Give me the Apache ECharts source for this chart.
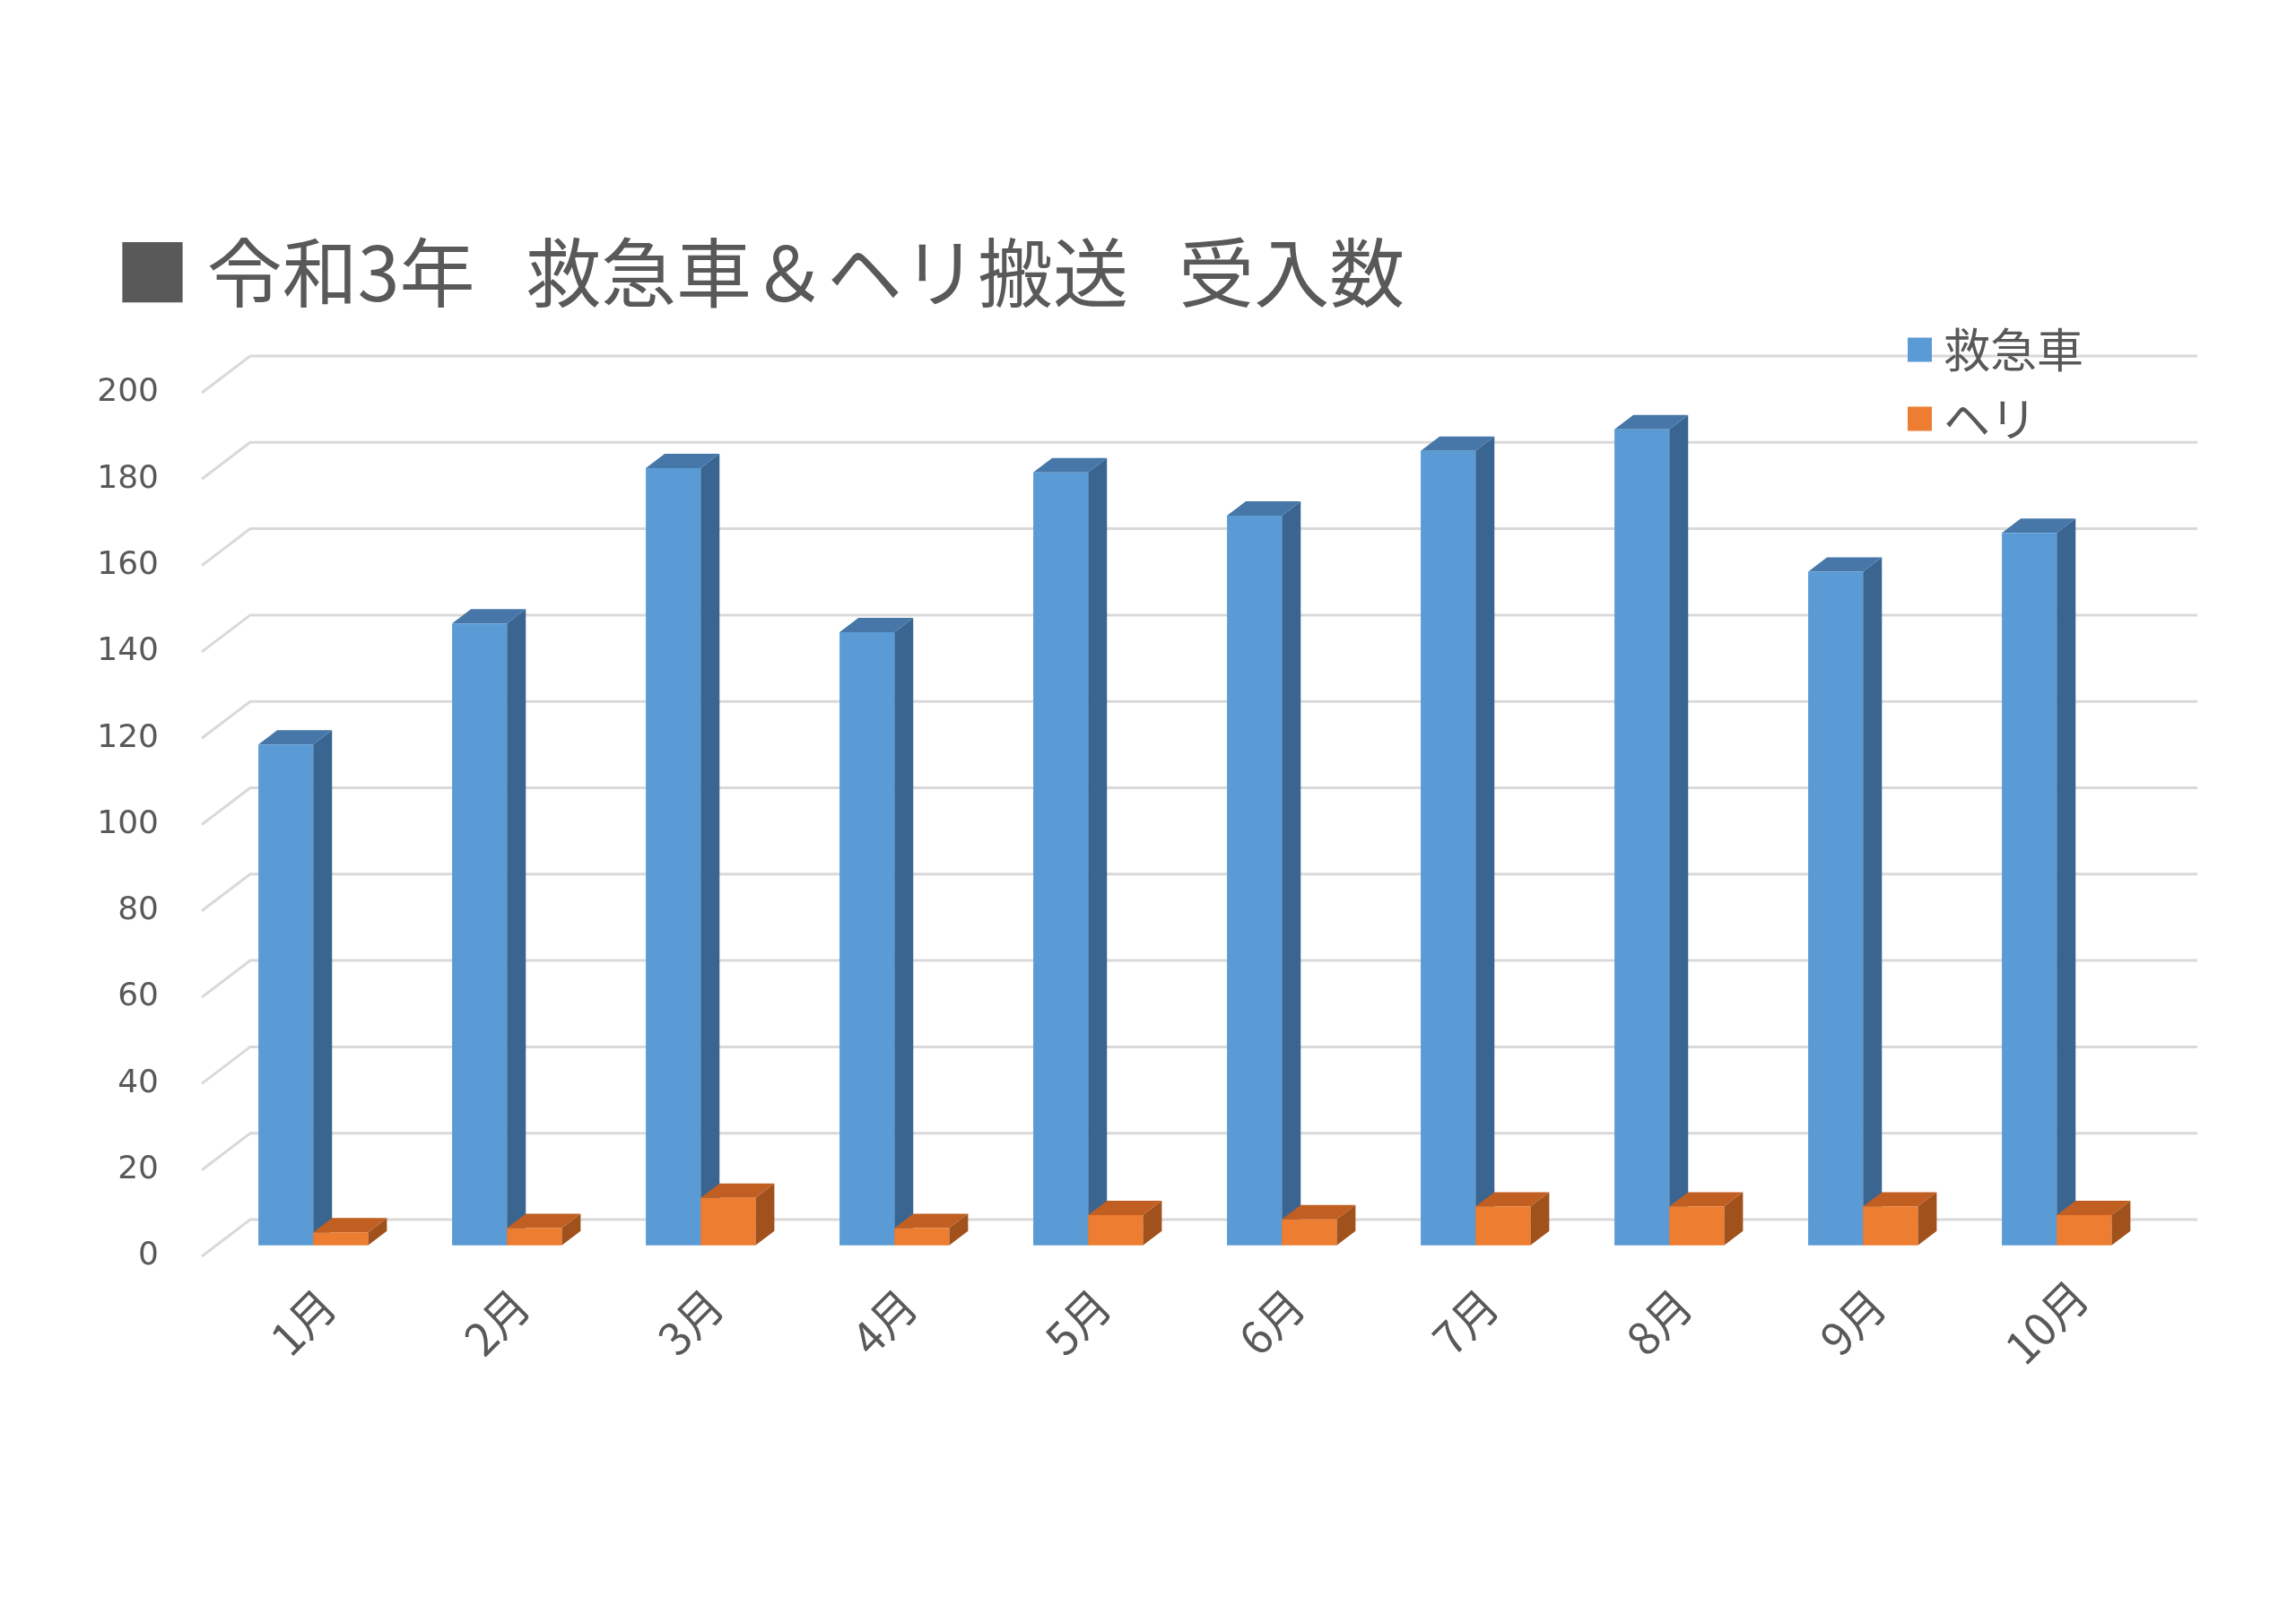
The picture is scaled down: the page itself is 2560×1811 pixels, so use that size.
<!DOCTYPE html>
<html>
<head>
<meta charset="utf-8">
<script src="https://cdn.jsdelivr.net/npm/echarts@6/dist/echarts.min.js"></script>
<style>
html,body{margin:0;padding:0;background:#ffffff;}
#c{width:2560px;height:1811px;}
</style>
</head>
<body>
<div id="c"></div>
<script>
// ---- data ----
const categories = ['1月','2月','3月','4月','5月','6月','7月','8月','9月','10月'];
const ambulance = [116, 144, 180, 142, 179, 169, 184, 189, 156, 165];
const heli = [3, 4, 11, 4, 7, 6, 9, 9, 9, 7];
const yTicks = [0, 20, 40, 60, 80, 100, 120, 140, 160, 180, 200];
const seriesNames = ['救急車', 'ヘリ'];
const titleText = '■ 令和3年   救急車＆ヘリ搬送   受入数';

// ---- 3D look (oblique projection) ----
const DEPTH_DX = 54, DEPTH_DY = 41;       // full floor depth
const BAR_POS = 0.3;                       // bars start 30% back
const BAR_DEPTH = 0.39;                    // bar depth as share of floor depth
const BAR_SHARE = 0.283;                   // each bar width as share of band

const palette = [
  {front:'#5B9BD5', top:'#4677A8', side:'#3A6591'},
  {front:'#ED7D31', top:'#C15E22', side:'#A0511C'}
];

function barRenderer(sIdx){
  return function(params, api){
    const cat = api.value(0), val = api.value(1);
    const base = api.coord([cat, 0]);
    const top = api.coord([cat, val]);
    const band = api.size([1, 0])[0];
    const bw = band * BAR_SHARE;
    const ox = DEPTH_DX * BAR_POS, oy = DEPTH_DY * BAR_POS;
    const sdx = DEPTH_DX * BAR_DEPTH, sdy = DEPTH_DY * BAR_DEPTH;
    const x0 = base[0] + ox + (sIdx === 0 ? -bw : 0);
    const x1 = x0 + bw;
    const yb = base[1] - oy, yt = top[1] - oy;
    const c = palette[sIdx];
    return {
      type: 'group',
      children: [
        {type:'polygon', shape:{points:[[x1,yb],[x1,yt],[x1+sdx,yt-sdy],[x1+sdx,yb-sdy]]}, style:{fill:c.side}},
        {type:'polygon', shape:{points:[[x0,yt],[x1,yt],[x1+sdx,yt-sdy],[x0+sdx,yt-sdy]]}, style:{fill:c.top}},
        {type:'rect', shape:{x:x0, y:yt, width:bw, height:yb-yt}, style:{fill:c.front}}
      ]
    };
  };
}

function wallRenderer(params, api){
  const cs = params.coordSys;
  const y = api.coord([0, api.value(1)])[1];
  return {
    type: 'polyline',
    shape: {points: [[cs.x, y], [cs.x + DEPTH_DX, y - DEPTH_DY], [cs.x + cs.width + 65, y - DEPTH_DY]]},
    style: {stroke: '#D9D9D9', lineWidth: 3, fill: null}
  };
}

const chart = echarts.init(document.getElementById('c'), null, {renderer: 'canvas'});
chart.setOption({
  backgroundColor: '#ffffff',
  animation: false,
  title: {
    text: titleText,
    left: 128,
    top: 260,
    padding: 0,
    textStyle: {fontFamily: '"Noto Sans CJK JP"', fontSize: 84, fontWeight: 'normal', color: '#595959', lineHeight: 88}
  },
  legend: {
    data: seriesNames,
    orient: 'vertical',
    left: 2127,
    top: 364,
    padding: 0,
    itemWidth: 27,
    itemHeight: 27,
    itemGap: 25,
    icon: 'rect',
    textStyle: {fontFamily: '"Noto Sans CJK JP"', fontSize: 52, color: '#595959', lineHeight: 52, padding: [0, 0, 0, 8]}
  },
  grid: {left: 225, right: 175, top: 438, bottom: 410, containLabel: false},
  xAxis: {
    type: 'category',
    data: categories,
    axisLine: {show: false},
    axisTick: {show: false},
    splitLine: {show: false},
    axisLabel: {
      rotate: 45,
      interval: 0,
      margin: 78,
      align: 'center',
      verticalAlign: 'middle',
      padding: [14, 0, 0, 14],
      fontFamily: '"Noto Sans CJK JP"',
      fontSize: 50,
      color: '#595959'
    }
  },
  yAxis: {
    type: 'value',
    min: 0,
    max: 200,
    interval: 20,
    axisLine: {show: false},
    axisTick: {show: false},
    splitLine: {show: false},
    axisLabel: {margin: 48, fontFamily: '"DejaVu Sans"', fontSize: 36, color: '#595959'}
  },
  series: [
    {
      type: 'custom',
      name: 'wall',
      silent: true,
      renderItem: wallRenderer,
      data: yTicks.map(v => [0, v]),
      z: 1
    },
    {
      type: 'custom',
      name: seriesNames[0],
      renderItem: barRenderer(0),
      itemStyle: {color: palette[0].front},
      data: ambulance.map((v, i) => [i, v]),
      z: 2
    },
    {
      type: 'custom',
      name: seriesNames[1],
      renderItem: barRenderer(1),
      itemStyle: {color: palette[1].front},
      data: heli.map((v, i) => [i, v]),
      z: 3
    }
  ]
});
</script>
</body>
</html>
